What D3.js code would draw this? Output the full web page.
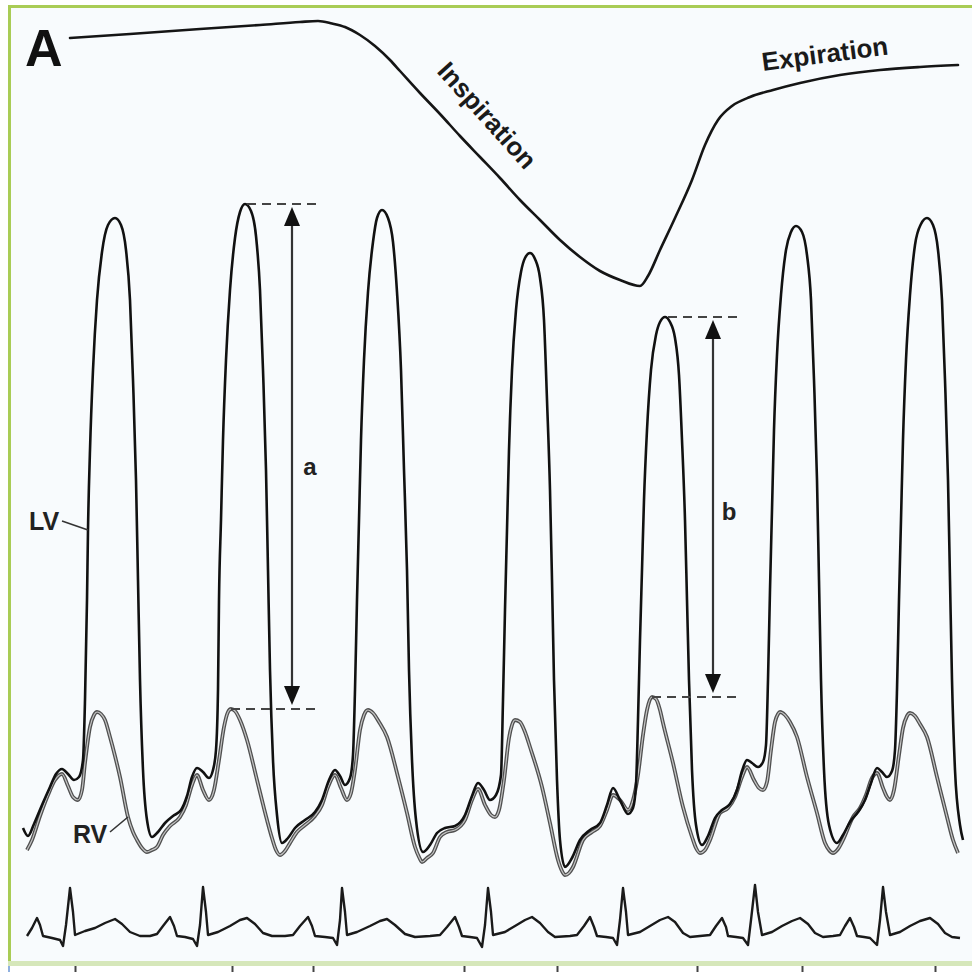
<!DOCTYPE html>
<html>
<head>
<meta charset="utf-8">
<script src="https://cdn.jsdelivr.net/npm/d3@7"></script>
<style>
  html, body { margin: 0; padding: 0; background: #ffffff; }
  svg { display: block; }
  text { font-family: "Liberation Sans", Arial, Helvetica, sans-serif; }
</style>
</head>
<body>
<svg id="chart" width="972" height="972"></svg>
<script>
// ---- Data: time in seconds, pressures in mmHg, ECG in mV ----

// Respiratory trace (arbitrary pressure units)
const respTrace = [
  [0.50, 26.2], [1.10, 26.6], [1.80, 27.1], [2.40, 27.5], [2.80, 27.8], [2.98, 27.9],
  [3.12, 27.65], [3.25, 27.3], [3.40, 26.5], [3.55, 25.4], [3.70, 24.0], [3.80, 22.9],
  [4.00, 20.7], [4.20, 18.6], [4.40, 16.4], [4.60, 14.3], [4.80, 12.2], [5.00, 10.0],
  [5.20, 8.0], [5.40, 6.0], [5.60, 4.3], [5.80, 2.9], [6.00, 2.0], [6.20, 1.4],
  [6.28, 2.4], [6.40, 5.0], [6.55, 8.2], [6.72, 12.0], [6.85, 15.5], [6.98, 18.0],
  [7.12, 19.4], [7.30, 20.3], [7.53, 21.0], [7.80, 21.7], [8.20, 22.5], [8.60, 23.0],
  [9.00, 23.3], [9.38, 23.5]
];

// Left ventricular pressure
const lvPressure = [
  [0.03, 6.4], [0.08, 4.8], [0.14, 7.2], [0.22, 11.0], [0.30, 14.6], [0.36, 17.2],
  [0.42, 18.2], [0.48, 17.2], [0.54, 16.0], [0.59, 16.6],
  [0.63, 20.0], [0.65, 32.0], [0.67, 52.0], [0.68, 66.0], [0.70, 82.0], [0.73, 98.0],
  [0.77, 112.0], [0.82, 121.6], [0.88, 127.0], [0.95, 128.4], [1.01, 127.0], [1.06, 122.0],
  [1.10, 112.0], [1.13, 96.0], [1.16, 76.0], [1.18, 56.0], [1.20, 36.0], [1.23, 18.0],
  [1.27, 8.0], [1.32, 4.6],
  [1.38, 5.6], [1.45, 7.4], [1.53, 8.8], [1.61, 10.0], [1.67, 12.8], [1.72, 16.6],
  [1.77, 18.4], [1.83, 17.6], [1.89, 16.4], [1.93, 18.0],
  [1.96, 22.0], [1.98, 34.0], [1.99, 52.0], [2.01, 68.0], [2.03, 84.0], [2.06, 100.0],
  [2.10, 114.0], [2.15, 124.4], [2.20, 129.6], [2.25, 131.2], [2.31, 129.8], [2.36, 124.8],
  [2.40, 114.0], [2.43, 98.0], [2.46, 78.0], [2.48, 58.0], [2.50, 38.0], [2.53, 20.0],
  [2.57, 9.0], [2.62, 3.4],
  [2.68, 4.4], [2.75, 6.4], [2.85, 8.0], [2.95, 9.6], [3.02, 12.0], [3.09, 16.0],
  [3.15, 18.0], [3.20, 16.8], [3.25, 15.0], [3.30, 16.4],
  [3.33, 21.0], [3.35, 34.0], [3.37, 52.0], [3.39, 68.0], [3.41, 84.0], [3.44, 100.0],
  [3.48, 113.6], [3.53, 123.6], [3.57, 128.4], [3.62, 130.0], [3.68, 128.4], [3.73, 123.6],
  [3.77, 113.6], [3.81, 98.0], [3.84, 78.0], [3.87, 58.0], [3.89, 38.0], [3.92, 20.0],
  [3.96, 8.0], [4.03, 1.6],
  [4.10, 3.0], [4.17, 5.4], [4.25, 6.4], [4.35, 6.8], [4.45, 9.0], [4.52, 12.8],
  [4.58, 15.4], [4.64, 14.0], [4.70, 12.0], [4.76, 13.0],
  [4.81, 17.0], [4.83, 32.0], [4.85, 50.0], [4.87, 66.0], [4.89, 82.0], [4.92, 98.0],
  [4.96, 110.0], [5.01, 117.6], [5.05, 120.4], [5.10, 121.4], [5.15, 120.2], [5.20, 116.4],
  [5.24, 108.0], [5.27, 92.0], [5.30, 74.0], [5.32, 56.0], [5.34, 36.0], [5.37, 16.0],
  [5.40, 4.0], [5.45, -1.4],
  [5.52, 0.4], [5.60, 4.0], [5.70, 6.0], [5.80, 7.4], [5.87, 11.0], [5.93, 14.4],
  [6.00, 12.0], [6.08, 9.2], [6.13, 10.4],
  [6.16, 15.0], [6.18, 28.0], [6.20, 44.0], [6.22, 58.0], [6.24, 72.0], [6.27, 86.0],
  [6.31, 98.0], [6.36, 105.0], [6.40, 107.6], [6.45, 108.6], [6.50, 107.6], [6.55, 104.4],
  [6.59, 97.0], [6.62, 84.0], [6.65, 68.0], [6.67, 52.0], [6.69, 36.0], [6.72, 18.0],
  [6.76, 7.0], [6.82, 3.0],
  [6.88, 4.8], [6.95, 8.4], [7.02, 10.0], [7.10, 11.2], [7.17, 14.0], [7.22, 17.8],
  [7.27, 20.0], [7.32, 19.4], [7.38, 18.6], [7.43, 19.6],
  [7.46, 23.0], [7.48, 36.0], [7.50, 54.0], [7.52, 70.0], [7.54, 86.0], [7.57, 101.0],
  [7.61, 113.0], [7.66, 122.0], [7.71, 125.6], [7.76, 126.8], [7.82, 125.6], [7.87, 121.0],
  [7.91, 112.0], [7.94, 96.0], [7.97, 76.0], [7.99, 56.0], [8.01, 36.0], [8.04, 18.0],
  [8.09, 7.0], [8.17, 3.4],
  [8.23, 5.0], [8.30, 7.6], [8.38, 9.6], [8.45, 12.0], [8.51, 15.4], [8.57, 18.4],
  [8.62, 17.6], [8.67, 16.6], [8.72, 17.8],
  [8.75, 22.0], [8.77, 34.0], [8.79, 52.0], [8.81, 68.0], [8.83, 84.0], [8.86, 100.0],
  [8.90, 113.0], [8.95, 123.0], [9.01, 127.2], [9.07, 128.4], [9.13, 127.0], [9.18, 122.0],
  [9.22, 112.0], [9.25, 96.0], [9.28, 76.0], [9.30, 56.0], [9.32, 36.0], [9.35, 18.0],
  [9.40, 7.0], [9.43, 4.0]
];

// Right ventricular pressure
const rvPressure = [
  [0.07, 2.0], [0.12, 4.0], [0.20, 8.8], [0.28, 13.0], [0.35, 16.0], [0.42, 17.2],
  [0.48, 14.8], [0.53, 12.6], [0.58, 12.0], [0.62, 14.0], [0.65, 19.4], [0.70, 26.6],
  [0.74, 29.0], [0.77, 29.6], [0.81, 29.2], [0.85, 28.0], [0.90, 24.6], [0.95, 20.8],
  [1.00, 16.6], [1.08, 8.6], [1.13, 5.6], [1.17, 4.0], [1.22, 2.4], [1.27, 1.6],
  [1.32, 2.0], [1.37, 2.6], [1.43, 5.0], [1.50, 6.8], [1.60, 8.6], [1.66, 11.0],
  [1.72, 15.0], [1.77, 17.0], [1.83, 14.0], [1.89, 12.0], [1.94, 14.0], [1.99, 20.0],
  [2.04, 26.6], [2.08, 29.6], [2.11, 30.2], [2.15, 29.8], [2.20, 28.0], [2.27, 24.0],
  [2.37, 16.0], [2.47, 8.0], [2.52, 4.4], [2.56, 2.0], [2.60, 1.0], [2.65, 1.8],
  [2.70, 3.4], [2.77, 5.6], [2.85, 7.0], [2.95, 8.8], [3.02, 11.0], [3.08, 14.6],
  [3.15, 17.0], [3.21, 14.4], [3.27, 12.0], [3.31, 13.4], [3.35, 18.0], [3.40, 26.0],
  [3.44, 29.0], [3.48, 30.0], [3.53, 29.4], [3.59, 27.6], [3.67, 24.6], [3.78, 16.6],
  [3.87, 9.4], [3.95, 2.6], [3.99, 0.6], [4.02, -0.4], [4.07, 0.4], [4.13, 1.4],
  [4.20, 4.6], [4.27, 5.6], [4.35, 6.0], [4.45, 8.0], [4.52, 12.0], [4.58, 14.2],
  [4.65, 11.0], [4.71, 9.0], [4.75, 8.6], [4.79, 10.0], [4.84, 16.0], [4.89, 24.4],
  [4.92, 27.0], [4.95, 28.0], [5.00, 27.6], [5.05, 25.6], [5.10, 22.6], [5.22, 14.6],
  [5.30, 7.4], [5.38, 0.0], [5.42, -2.2], [5.45, -3.0], [5.49, -2.6], [5.53, -1.4],
  [5.63, 4.0], [5.72, 5.6], [5.80, 6.8], [5.87, 10.0], [5.93, 13.0], [6.00, 12.0],
  [6.08, 10.0], [6.13, 12.0], [6.18, 17.0], [6.23, 25.0], [6.27, 30.0], [6.32, 32.6],
  [6.36, 32.2], [6.40, 30.0], [6.43, 27.4], [6.53, 19.4], [6.63, 10.6], [6.72, 4.6],
  [6.76, 2.4], [6.80, 1.4], [6.85, 2.0], [6.90, 4.0], [7.00, 9.4], [7.08, 10.4],
  [7.15, 12.6], [7.22, 16.6], [7.27, 18.6], [7.34, 16.0], [7.39, 14.4], [7.43, 14.0],
  [7.47, 15.6], [7.51, 22.0], [7.55, 27.6], [7.58, 29.2], [7.60, 29.6], [7.65, 29.0],
  [7.70, 27.6], [7.77, 24.6], [7.87, 16.6], [7.97, 9.4], [8.05, 3.4], [8.09, 2.0],
  [8.13, 1.4], [8.18, 2.2], [8.23, 4.0], [8.33, 8.6], [8.40, 10.4], [8.46, 13.0],
  [8.52, 16.4], [8.57, 17.4], [8.63, 14.4], [8.67, 12.6], [8.70, 12.0], [8.74, 14.0],
  [8.79, 21.0], [8.83, 26.4], [8.87, 28.8], [8.90, 29.4], [8.95, 28.8], [9.00, 27.2],
  [9.07, 24.6], [9.17, 16.6], [9.27, 8.6], [9.33, 4.0], [9.38, 1.4]
];

// Surface ECG
const ecgTrace = [
  [0.07, -0.02], [0.12, 0.14], [0.17, 0.34], [0.20, 0.20], [0.23, -0.02], [0.32, -0.06],
  [0.40, -0.10], [0.43, -0.22], [0.46, 0.20], [0.50, 0.94], [0.53, 0.46], [0.55, 0.00],
  [0.65, 0.08], [0.75, 0.14], [0.85, 0.24], [0.95, 0.32], [1.02, 0.22], [1.10, 0.06],
  [1.20, -0.02], [1.30, -0.02], [1.37, 0.02], [1.43, 0.18], [1.50, 0.36], [1.54, 0.18],
  [1.57, -0.02], [1.65, -0.04], [1.73, -0.08], [1.77, -0.22], [1.80, 0.20], [1.83, 0.96],
  [1.86, 0.46], [1.88, 0.00], [1.98, 0.06], [2.10, 0.18], [2.20, 0.30], [2.27, 0.34],
  [2.35, 0.22], [2.43, 0.04], [2.52, -0.02], [2.65, -0.02], [2.73, 0.00], [2.80, 0.18],
  [2.88, 0.36], [2.92, 0.18], [2.95, -0.02], [3.05, -0.04], [3.13, -0.06], [3.17, -0.20],
  [3.20, 0.30], [3.22, 0.94], [3.25, 0.46], [3.27, 0.00], [3.37, 0.06], [3.50, 0.18],
  [3.60, 0.28], [3.67, 0.32], [3.75, 0.20], [3.85, 0.02], [3.95, -0.04], [4.10, -0.02],
  [4.20, 0.00], [4.27, 0.16], [4.35, 0.36], [4.39, 0.16], [4.42, -0.02], [4.50, -0.04],
  [4.57, -0.06], [4.62, -0.24], [4.65, 0.20], [4.68, 0.94], [4.71, 0.46], [4.73, 0.00],
  [4.85, 0.06], [4.95, 0.18], [5.05, 0.30], [5.12, 0.36], [5.20, 0.24], [5.28, 0.06],
  [5.35, -0.04], [5.50, -0.02], [5.57, 0.00], [5.64, 0.18], [5.70, 0.36], [5.74, 0.16],
  [5.77, -0.02], [5.86, -0.04], [5.93, -0.06], [5.97, -0.20], [6.00, 0.30], [6.03, 0.94],
  [6.06, 0.46], [6.08, 0.00], [6.20, 0.06], [6.30, 0.18], [6.40, 0.30], [6.48, 0.36],
  [6.55, 0.26], [6.63, 0.04], [6.70, -0.04], [6.80, -0.02], [6.90, 0.00], [6.96, 0.18],
  [7.02, 0.34], [7.06, 0.16], [7.08, -0.02], [7.16, -0.04], [7.23, -0.06], [7.28, -0.20],
  [7.31, 0.30], [7.35, 1.00], [7.38, 0.46], [7.42, 0.00], [7.52, 0.06], [7.62, 0.18],
  [7.72, 0.28], [7.80, 0.34], [7.88, 0.22], [7.95, 0.04], [8.03, -0.04], [8.13, -0.02],
  [8.20, 0.00], [8.25, 0.18], [8.30, 0.34], [8.34, 0.16], [8.37, -0.02], [8.44, -0.04],
  [8.50, -0.06], [8.57, -0.20], [8.60, 0.30], [8.63, 0.96], [8.66, 0.46], [8.70, 0.00],
  [8.80, 0.06], [8.90, 0.18], [9.00, 0.28], [9.10, 0.34], [9.18, 0.22], [9.25, 0.04],
  [9.32, -0.04], [9.40, -0.06]
];

// Time markers along the bottom edge (s)
const tickTimes = [0.55, 2.12, 2.93, 4.44, 5.37, 6.77, 7.82, 9.15];

// Peak-to-peak measurements: LV systolic peak vs RV systolic peak
const measurements = [
  { label: "a", t: 2.72, lvT: 2.27, rvT: 2.11, endT: 2.98, lv: 131.2, rv: 30.2, labelT: 2.90, labelP: 77 },
  { label: "b", t: 6.93, lvT: 6.48, rvT: 6.32, endT: 7.17, lv: 108.6, rv: 32.6, labelT: 7.09, labelP: 68 }
];

// ---- Scales ----
const W = 972, H = 972;
const x = d3.scaleLinear().domain([0, 9.5]).range([20, 970]);
const yP = d3.scaleLinear().domain([0, 172]).range([860, 0]);     // mmHg
const yR = d3.scaleLinear().domain([0, 30]).range([300, 0]);      // respiration
const yE = d3.scaleLinear().domain([0, 1]).range([935, 885]);     // mV

const svg = d3.select("#chart");

// ---- Panel frame ----
svg.append("rect").attr("width", W).attr("height", H).attr("fill", "#ffffff");
svg.append("rect").attr("x", 8).attr("y", 5).attr("width", W - 8).attr("height", 956).attr("fill", "#f8fbfd");
svg.append("rect").attr("x", 8).attr("y", 5).attr("width", W - 8).attr("height", 3).attr("fill", "#a9cc55");
svg.append("rect").attr("x", 8).attr("y", 5).attr("width", 3).attr("height", 956).attr("fill", "#a9cc55");
svg.append("rect").attr("x", 8).attr("y", 961).attr("width", W - 8).attr("height", 5).attr("fill", "#d6e7ba");
svg.append("rect").attr("x", 8).attr("y", 966).attr("width", 2).attr("height", 6).attr("fill", "#8fb0e0");

// ---- Time marker ticks ----
const axis = d3.axisBottom(x).tickValues(tickTimes).tickSize(6).tickFormat("");
const gAxis = svg.append("g").attr("transform", "translate(0,966)").call(axis);
gAxis.select(".domain").remove();
gAxis.selectAll(".tick line").attr("stroke", "#444").attr("stroke-width", 2);

// ---- Traces ----
const lineP = d3.line().x(d => x(d[0])).y(d => yP(d[1])).curve(d3.curveMonotoneX);
const lineR = d3.line().x(d => x(d[0])).y(d => yR(d[1])).curve(d3.curveMonotoneX);
const lineE = d3.line().x(d => x(d[0])).y(d => yE(d[1])).curve(d3.curveLinear);

svg.append("path").attr("d", lineR(respTrace))
  .attr("fill", "none").attr("stroke", "#151515").attr("stroke-width", 2.6)
  .attr("stroke-linejoin", "round").attr("stroke-linecap", "round");

// RV drawn as an outlined grey trace
svg.append("path").attr("d", lineP(rvPressure))
  .attr("fill", "none").attr("stroke", "#505050").attr("stroke-width", 3.8)
  .attr("stroke-linejoin", "round");
svg.append("path").attr("d", lineP(rvPressure))
  .attr("fill", "none").attr("stroke", "#c4c4c4").attr("stroke-width", 1.2)
  .attr("stroke-linejoin", "round");

svg.append("path").attr("d", lineP(lvPressure))
  .attr("fill", "none").attr("stroke", "#111").attr("stroke-width", 2.6)
  .attr("stroke-linejoin", "round");

svg.append("path").attr("d", lineE(ecgTrace))
  .attr("fill", "none").attr("stroke", "#1a1a1a").attr("stroke-width", 2.4)
  .attr("stroke-linejoin", "round");

// ---- Measurement arrows ----
const ann = svg.append("g");
measurements.forEach(m => {
  const xa = x(m.t), yTop = yP(m.lv), yBot = yP(m.rv);
  ann.append("line").attr("x1", x(m.lvT)).attr("x2", x(m.endT)).attr("y1", yTop).attr("y2", yTop)
    .attr("stroke", "#444").attr("stroke-width", 2).attr("stroke-dasharray", "9,6");
  ann.append("line").attr("x1", x(m.rvT)).attr("x2", x(m.endT)).attr("y1", yBot).attr("y2", yBot)
    .attr("stroke", "#444").attr("stroke-width", 2).attr("stroke-dasharray", "9,6");
  ann.append("line").attr("x1", xa).attr("x2", xa).attr("y1", yTop + 18).attr("y2", yBot - 18)
    .attr("stroke", "#333").attr("stroke-width", 2.2);
  ann.append("path").attr("d", `M${xa},${yTop + 3} L${xa - 8},${yTop + 22} L${xa + 8},${yTop + 22} Z`).attr("fill", "#111");
  ann.append("path").attr("d", `M${xa},${yBot - 4} L${xa - 8},${yBot - 23} L${xa + 8},${yBot - 23} Z`).attr("fill", "#111");
  ann.append("text").attr("x", x(m.labelT)).attr("y", yP(m.labelP))
    .attr("text-anchor", "middle").attr("font-size", 24).attr("font-weight", "bold")
    .attr("fill", "#222").text(m.label);
});

// ---- Labels ----
svg.append("text").attr("x", 25).attr("y", 66).attr("font-size", 52).attr("font-weight", "bold")
  .attr("fill", "#111").text("A");

svg.append("text").attr("transform", "translate(436,72) rotate(48)")
  .attr("font-size", 26).attr("font-weight", "bold").attr("fill", "#1a1a1a").text("Inspiration");

svg.append("text").attr("transform", "translate(763,71) rotate(-7.5)")
  .attr("font-size", 26).attr("font-weight", "bold").attr("fill", "#1a1a1a").text("Expiration");

svg.append("text").attr("x", 29).attr("y", 530).attr("font-size", 25).attr("font-weight", "bold")
  .attr("fill", "#222").text("LV");
svg.append("line").attr("x1", 62).attr("y1", 521).attr("x2", x(0.68)).attr("y2", 530)
  .attr("stroke", "#333").attr("stroke-width", 1.6);

svg.append("text").attr("x", 73).attr("y", 843).attr("font-size", 25).attr("font-weight", "bold")
  .attr("fill", "#222").text("RV");
svg.append("line").attr("x1", 110).attr("y1", 832).attr("x2", x(1.08)).attr("y2", yP(8.6))
  .attr("stroke", "#333").attr("stroke-width", 1.6);
</script>
</body>
</html>
